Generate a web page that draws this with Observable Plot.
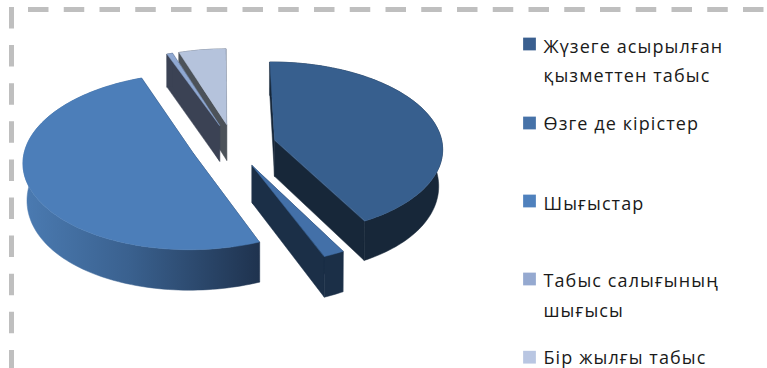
<!DOCTYPE html>
<html>
<head>
<meta charset="utf-8">
<script src="https://cdn.jsdelivr.net/npm/d3@7"></script>
<script src="https://cdn.jsdelivr.net/npm/@observablehq/plot@0.6"></script>
<style>html,body{margin:0;padding:0;background:#fff}svg{display:block}
g[aria-label="line"]{filter:blur(0.5px)}</style>
</head>
<body>
<div id="chart"></div>
<script>
const categories = ["Жүзеге асырылған қызметтен табыс","Өзге де кірістер","Шығыстар","Табыс салығының шығысы","Бір жылғы табыс"];
const values = [42.2, 1.8, 50.4, 0.6, 5.0];
const legendLines = [["Жүзеге асырылған","қызметтен табыс"],["Өзге де кірістер"],["Шығыстар"],["Табыс салығының","шығысы"],["Бір жылғы табыс"]];
const topColors = ["#375f8e","#4370a8","#4c7eb9","#8fa8d2","#b5c3dc"];
const wallColors = ["#172739","#1b2f47","url(#bigWall)","#3b4254","#4c5259"];
const legendColors = ["#3a5f8f","#4672a8","#4f81bd","#95a9d0","#b9c6e2"];
const legendBaseY = [52,129.3,209,286.7,363.5];
const legendBoxY = [43.5,122.5,200.5,278.5,356.7];

// Pie projection: unit disc seen in perspective
const P = {x:233, y:145, a:168, b:86, k:0.09, h:36.5, explode:0.254, startDeg:-0.5};
const project = (u,v,down) => {
  const w = 1 - P.k*v;
  const dx = P.a*u/w;
  const taper = down ? 4*Math.pow(Math.abs(dx)/210,4)*Math.sign(dx) : 0;
  return {x: P.x + dx - taper, y: P.y + (P.b*v + (down?P.h:0))/w};
};
const rad = d => d*Math.PI/180;
const total = d3.sum(values);
let acc = P.startDeg;
const slices = values.map((val,i)=>{
  const a0 = acc, a1 = acc + val/total*360; acc = a1;
  const mid = rad((a0+a1)/2);
  return {i, a0, a1, du: Math.sin(mid)*P.explode, dv: -Math.cos(mid)*P.explode};
});
const polys = [];
let pid = 0;
const addPoly = (pts,fill) => { const id = pid++; pts.forEach(p=>polys.push({id,fill,x:p.x,y:p.y})); };
const rimAt = (s,deg,down) => project(s.du+Math.sin(rad(deg)), s.dv-Math.cos(rad(deg)), down);
const apexAt = (s,down) => project(s.du,s.dv,down);

// back-to-front: light, tiny, slice 1, big, thin
[4,3,0,2,1].forEach(i=>{
  const s = slices[i];
  const wc = wallColors[i];
  [s.a0,s.a1].forEach(a=>{
    addPoly([apexAt(s,false),rimAt(s,a,false),rimAt(s,a,true),apexAt(s,true)], i===2 ? "#1f334f" : wc);
  });
  const n = Math.max(1,Math.ceil((s.a1-s.a0)/1.5));
  const degs = d3.range(n+1).map(j=>s.a0+(s.a1-s.a0)*j/n);
  addPoly([...degs.map(d=>rimAt(s,d,false)),...degs.slice().reverse().map(d=>rimAt(s,d,true))], wc);
  addPoly([apexAt(s,false),...degs.map(d=>rimAt(s,d,false))], topColors[i]);
});

const legendText = legendLines.flatMap((lines,i)=>lines.map((t,j)=>({t, x:543, y:legendBaseY[i]+j*29.8})));
const legendBoxes = categories.map((c,i)=>({c, x:529, y:legendBoxY[i], fill:legendColors[i]}));

const gradient = () => {
  const ns = "http://www.w3.org/2000/svg";
  const defs = document.createElementNS(ns,"defs");
  const g = document.createElementNS(ns,"linearGradient");
  g.setAttribute("id","bigWall");
  g.setAttribute("gradientUnits","userSpaceOnUse");
  g.setAttribute("x1",22); g.setAttribute("x2",258);
  g.setAttribute("y1",0); g.setAttribute("y2",0);
  [[0,"#4b7bb2"],[0.45,"#3a618f"],[1,"#1f334f"]].forEach(([o,c])=>{
    const st = document.createElementNS(ns,"stop");
    st.setAttribute("offset",o); st.setAttribute("stop-color",c);
    g.appendChild(st);
  });
  defs.appendChild(g);
  return defs;
};

const plot = Plot.plot({
  width:767, height:368, margin:0,
  style:{background:"#fff", letterSpacing:"1.1px"},
  x:{domain:[0,767],range:[0,767],axis:null},
  y:{domain:[0,368],range:[0,368],axis:null},
  color:{type:"identity"},
  marks:[
    gradient,
    Plot.ruleY([9],{x1:28,x2:767,stroke:"#bfbfbf",strokeWidth:5,strokeDasharray:"20.5 15.25"}),
    Plot.ruleX([11],{y1:7,y2:368,stroke:"#bfbfbf",strokeWidth:5,strokeDasharray:"21.5 16.6"}),
    Plot.line(polys,{x:"x",y:"y",z:"id",fill:"fill",stroke:"fill",strokeWidth:0.5,curve:"linear-closed"}),
    Plot.dot(legendBoxes,{x:"x",y:"y",fill:"fill",symbol:"square",r:7.2,stroke:"none"}),
    Plot.text(legendText,{x:"x",y:"y",text:"t",textAnchor:"start",lineAnchor:"bottom",fontSize:18,fontFamily:"Open Sans",fill:"#1a1a1a"})
  ]
});
document.getElementById("chart").appendChild(plot);
</script>
</body>
</html>
